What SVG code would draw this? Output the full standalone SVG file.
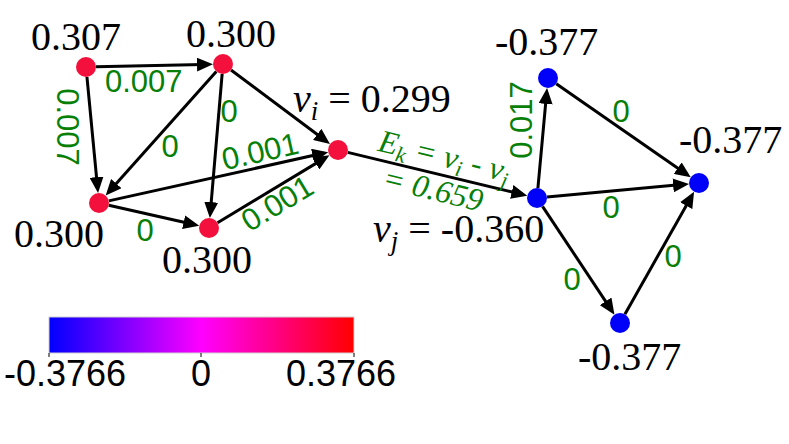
<svg xmlns="http://www.w3.org/2000/svg" width="789" height="444" viewBox="0 0 789 444">
<style>
.edge{stroke:#000;stroke-width:3;fill:none;marker-end:url(#ah)}
.lbl{font-family:"Liberation Serif","Times New Roman",serif;font-size:40px;fill:#000}
.el{font-family:"Liberation Sans",Arial,sans-serif;font-size:31px;fill:#087f08}
.ek{font-family:"Liberation Serif","Times New Roman",serif;font-size:32px;font-style:italic;fill:#087f08}
.cb{font-family:"Liberation Sans",Arial,sans-serif;font-size:36px;fill:#000}
.pos{fill:#f3103c}
.neg{fill:#0000f8}
</style>
<defs>
<marker id="ah" markerWidth="16" markerHeight="14" refX="6" refY="7" orient="auto" markerUnits="userSpaceOnUse">
<path d="M0,0 L16,7 L0,14 z" fill="#000"/>
</marker>
<linearGradient id="cmap" x1="0" y1="0" x2="1" y2="0">
<stop offset="0" stop-color="#0000ff"/>
<stop offset="0.5" stop-color="#ff00ff"/>
<stop offset="1" stop-color="#ff0000"/>
</linearGradient>
</defs>
<rect width="789" height="444" fill="#fff"/>
<g id="connectors">
<line class="edge" x1="96.0" y1="66.78" x2="203.0" y2="64.44"/>
<line class="edge" x1="86.95" y1="76.95" x2="97.10" y2="183.09"/>
<line class="edge" x1="216.34" y1="71.46" x2="112.31" y2="188.08"/>
<line class="edge" x1="222.15" y1="73.96" x2="210.70" y2="208.07"/>
<line class="edge" x1="231.01" y1="69.99" x2="321.98" y2="138.02"/>
<line class="edge" x1="108.76" y1="200.84" x2="318.47" y2="154.33"/>
<line class="edge" x1="108.75" y1="205.22" x2="189.50" y2="223.57"/>
<line class="edge" x1="217.56" y1="222.83" x2="320.89" y2="160.35"/>
<line class="edge" x1="347.72" y1="152.35" x2="517.56" y2="193.31"/>
<line class="edge" x1="537.91" y1="188.04" x2="546.17" y2="97.92"/>
<line class="edge" x1="546.96" y1="197.08" x2="679.09" y2="184.84"/>
<line class="edge" x1="542.53" y1="206.33" x2="608.94" y2="306.34"/>
<line class="edge" x1="556.21" y1="83.71" x2="682.58" y2="171.58"/>
<line class="edge" x1="624.91" y1="314.29" x2="689.17" y2="200.42"/>
<text class="el" x="105" y="92">0.007</text>
<text class="el" transform="translate(68,127) rotate(90)" x="0" y="11" text-anchor="middle">0.007</text>
<text class="el" x="170" y="157" text-anchor="middle">0</text>
<text class="el" x="229" y="122" text-anchor="middle">0</text>
<text class="el" x="145" y="241" text-anchor="middle">0</text>
<text class="el" transform="translate(260,151) rotate(-12.5)" x="0" y="11" text-anchor="middle">0.001</text>
<text class="el" transform="translate(277,203) rotate(-31.2)" x="0" y="11" text-anchor="middle">0.001</text>
<text class="el" transform="translate(521,120) rotate(-90)" x="0" y="11" text-anchor="middle">0.017</text>
<text class="el" x="621" y="122" text-anchor="middle">0</text>
<text class="el" x="611" y="218" text-anchor="middle">0</text>
<text class="el" x="572" y="290" text-anchor="middle">0</text>
<text class="el" x="673" y="267" text-anchor="middle">0</text>
<g transform="translate(440,174) rotate(13.6)">
<text class="ek" x="0" y="-8" text-anchor="middle">E<tspan font-size="22" dy="6">k</tspan><tspan dy="-6"> = v</tspan><tspan font-size="22" dy="6">i</tspan><tspan dy="-6"> - v</tspan><tspan font-size="22" dy="6">j</tspan></text>
<text class="ek" x="-3" y="27" text-anchor="middle">= 0.659</text>
</g>
</g>
<g id="nA"><circle class="pos" cx="86" cy="67" r="10"/><text class="lbl" x="31" y="50">0.307</text></g>
<g id="nB"><circle class="pos" cx="223" cy="64" r="10"/><text class="lbl" x="186" y="47">0.300</text></g>
<g id="nC"><circle class="pos" cx="338" cy="150" r="10"/><text class="lbl" x="293" y="112"><tspan font-style="italic">v</tspan><tspan font-style="italic" font-size="27" dy="8">i</tspan><tspan dy="-8"> = 0.299</tspan></text></g>
<g id="nD"><circle class="pos" cx="99" cy="203" r="10"/><text class="lbl" x="14" y="247">0.300</text></g>
<g id="nE"><circle class="pos" cx="209" cy="228" r="10"/><text class="lbl" x="162" y="273">0.300</text></g>
<g id="nF"><circle class="neg" cx="537" cy="198" r="10"/><text class="lbl" x="373" y="242"><tspan font-style="italic">v</tspan><tspan font-style="italic" font-size="27" dy="8">j</tspan><tspan dy="-8"> = -0.360</tspan></text></g>
<g id="nG"><circle class="neg" cx="548" cy="78" r="10"/><text class="lbl" x="495" y="55">-0.377</text></g>
<g id="nH"><circle class="neg" cx="699" cy="183" r="10"/><text class="lbl" x="679" y="153">-0.377</text></g>
<g id="nI"><circle class="neg" cx="620" cy="323" r="10"/><text class="lbl" x="578" y="370">-0.377</text></g>
<g id="colorbar">
<rect x="49" y="317" width="305" height="36" fill="url(#cmap)" stroke="#d0d0d0" stroke-width="1"/>
<line x1="49" y1="353" x2="49" y2="357" stroke="#000" stroke-width="1"/>
<line x1="201" y1="353" x2="201" y2="357" stroke="#000" stroke-width="1"/>
<line x1="354" y1="353" x2="354" y2="357" stroke="#000" stroke-width="1"/>
<text class="cb" x="4" y="386">-0.3766</text>
<text class="cb" x="201" y="386" text-anchor="middle">0</text>
<text class="cb" x="396" y="386" text-anchor="end">0.3766</text>
</g>
</svg>
